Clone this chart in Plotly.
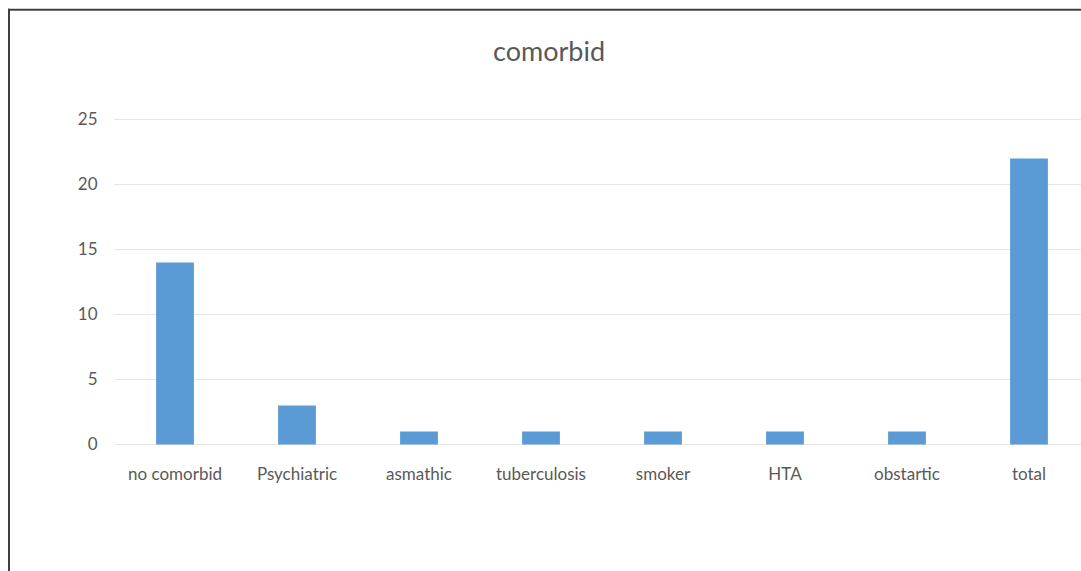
import plotly.graph_objects as go

categories = ["no comorbid", "Psychiatric", "asmathic", "tuberculosis", "smoker", "HTA", "obstartic", "total"]
values = [14, 3, 1, 1, 1, 1, 1, 22]
y_ticks = [0, 5, 10, 15, 20, 25]

W, H = 1081, 571
unit = 326 / 25.0          # pixels per y unit in the reference
pad = 1.5 / unit           # small range padding so edge gridlines show
L, R = 114, 0
T = 119 - 1.5
B = H - (445 + 1.5)
pw = W - L - R
ph = H - T - B

def px(x):
    return (x - L) / pw

def py(y):
    return (H - B - y) / ph

font_family = "Lato, Open Sans, Arial"

fig = go.Figure(go.Bar(
    x=list(range(len(categories))),
    y=values,
    width=0.31,
    marker=dict(color="#5B9BD5", line=dict(width=0)),
))

fig.update_layout(
    width=W, height=H,
    margin=dict(l=L, r=R, t=T, b=B, pad=0),
    paper_bgcolor="white",
    plot_bgcolor="white",
    showlegend=False,
    font=dict(family=font_family, color="#595959", size=16),
    title=dict(text="comorbid", x=px(549), xref="paper", xanchor="center",
               y=1 - 52 / H, yanchor="middle",
               font=dict(size=27, color="#595959", family=font_family)),
    xaxis=dict(
        tickmode="array",
        tickvals=list(range(len(categories))),
        ticktext=categories,
        range=[-0.5, -0.5 + pw / 122.0],
        showgrid=False,
        zeroline=False,
        showline=False,
        ticks="outside",
        ticklen=13,
        tickcolor="rgba(0,0,0,0)",
        tickfont=dict(size=17, color="#595959"),
    ),
    yaxis=dict(
        range=[-pad, 25 + pad],
        tickmode="array",
        tickvals=y_ticks,
        showgrid=True,
        gridcolor="#E6E6E6",
        gridwidth=1,
        zeroline=False,
        showline=False,
        ticks="outside",
        ticklen=12,
        tickcolor="rgba(0,0,0,0)",
        tickfont=dict(size=17, color="#595959"),
    ),
    shapes=[
        dict(type="line", xref="paper", yref="paper", x0=px(9), x1=px(9), y0=py(8), y1=py(575),
             line=dict(color="#404040", width=2)),
        dict(type="line", xref="paper", yref="paper", x0=px(8), x1=px(1085), y0=py(9), y1=py(9),
             line=dict(color="#404040", width=2)),
    ],
)

fig.write_html("out.html")
